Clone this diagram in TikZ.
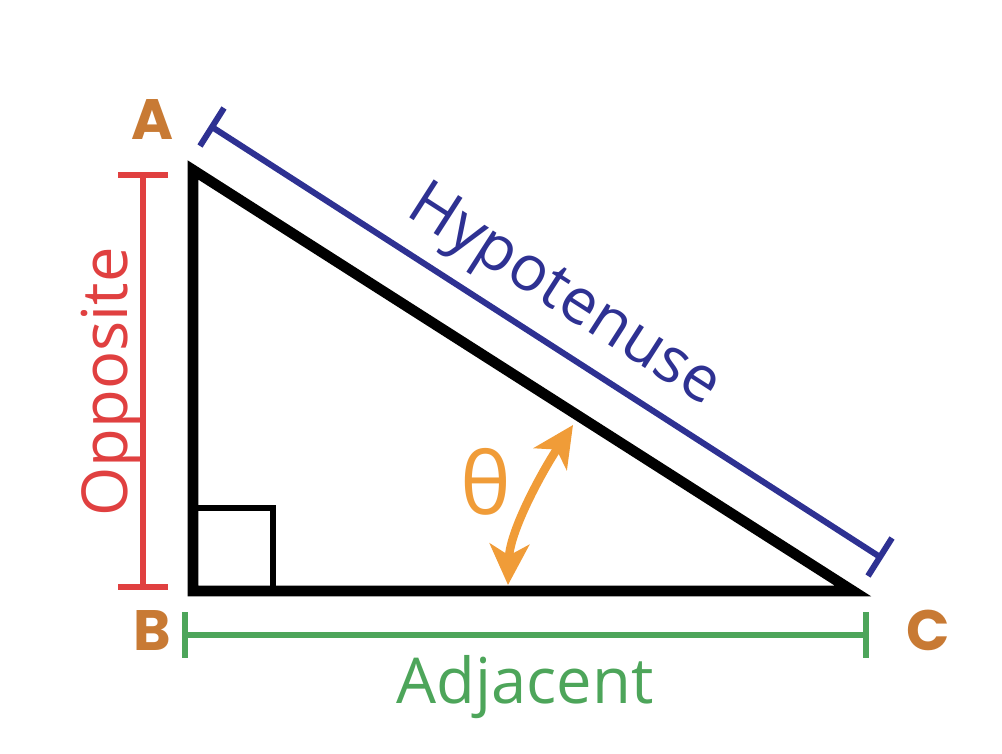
\documentclass[tikz,border=0pt]{standalone}
\usepackage{fontspec}
\setmainfont{Open Sans}
\newfontfamily\vertexfont{Poppins}
\usetikzlibrary{positioning, arrows.meta, calc}
\definecolor{vertexc}{RGB}{200,122,52}
\definecolor{oppc}{RGB}{224,64,64}
\definecolor{adjc}{RGB}{77,165,90}
\definecolor{hypc}{RGB}{46,49,146}
\definecolor{anglec}{RGB}{240,156,56}

\begin{document}
\begin{tikzpicture}[x=0.025cm, y=-0.025cm,
        vertex/.style={inner sep=0pt, text=vertexc, font=\vertexfont\bfseries\fontsize{40.5}{48}\selectfont},
        side/.style={inner sep=0pt, font=\fontsize{45}{54}\selectfont},
        bar/.style={line width=4.3pt},
        leg/.style={line width=7.5pt, line join=miter}]
        \useasboundingbox (0,0) rectangle (1002,754);

        % Nodes
        \coordinate (A) at (193,170);
        \coordinate (B) at (193,591);
        \coordinate (C) at (853,591);
        \node[vertex] (a) at (152,120) {A};
        \node[vertex] (b) at (152,631) {B};
        \node[vertex] (c) at (928,630) {C};

        \coordinate (o1) at (143,175);
        \coordinate (o2) at (143,587);
        \coordinate (d1) at (185,635);
        \coordinate (d2) at (866,635);
        \coordinate (h1) at (212,127);
        \coordinate (h2) at (880,557);

        \node[side, text=oppc, rotate=90, anchor=base] (opp) at (127,382) {Opposite};
        \node[side, text=adjc, anchor=base] (adj) at (525,703) {Adjacent};
        \node[side, text=hypc, rotate=-32.7] (hyp) at (563,298) {Hypotenuse};

        \coordinate (t1) at (508,585);
        \coordinate (t2) at (573,425);
        \node[inner sep=0pt, text=anglec, font=\fontsize{61}{70}\selectfont] (theta) at (486,482) {θ};

        % Edges
        \draw[leg] (A) -- (B) -- (C) -- cycle;
        \draw[line width=4.3pt] (193,508) rectangle (273,591);

        \draw[bar, oppc] (o1) -- (o2);
        \draw[bar, oppc] ($(o1)+(-25,0)$) -- ($(o1)+(25,0)$);
        \draw[bar, oppc] ($(o2)+(-25,0)$) -- ($(o2)+(25,0)$);

        \draw[bar, adjc] (d1) -- (d2);
        \draw[bar, adjc] ($(d1)+(0,-23)$) -- ($(d1)+(0,23)$);
        \draw[bar, adjc] ($(d2)+(0,-23)$) -- ($(d2)+(0,23)$);

        \draw[bar, hypc] (h1) -- (h2);
        \draw[bar, hypc] ($(h1)+(12,-19)$) -- ($(h1)+(-12,19)$);
        \draw[bar, hypc] ($(h2)+(12,-19)$) -- ($(h2)+(-12,19)$);

        \draw[line width=6pt, anglec, {Stealth[length=29pt, width=28pt, inset=8pt]}-{Stealth[length=29pt, width=28pt, inset=8pt]}]
            (t1) .. controls (510,530) and (543,470) .. (t2);
    \end{tikzpicture}
\end{document}
